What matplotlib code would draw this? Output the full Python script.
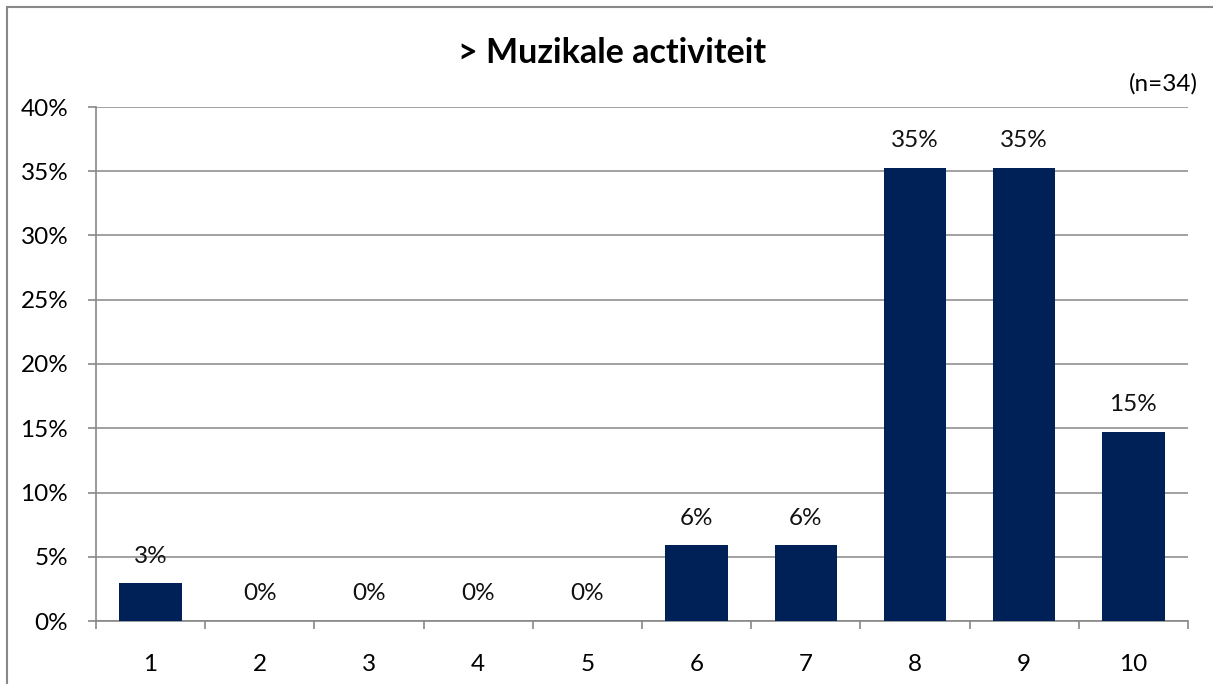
import numpy as np
import matplotlib.pyplot as plt
from matplotlib.patches import Rectangle

categories = ["1", "2", "3", "4", "5", "6", "7", "8", "9", "10"]
percentages = [2.94, 0, 0, 0, 0, 5.88, 5.88, 35.29, 35.29, 14.71]
bar_labels = ["3%", "0%", "0%", "0%", "0%", "6%", "6%", "35%", "35%", "15%"]
y_ticks = [0, 5, 10, 15, 20, 25, 30, 35, 40]

plt.rcParams['font.family'] = ['Lato', 'DejaVu Sans']

fig = plt.figure(figsize=(12.13, 6.84), dpi=100)
ax = fig.add_axes([96 / 1213, 1 - 621 / 684, (1188 - 96) / 1213, (621 - 107) / 684])

x = np.arange(len(categories))
ax.bar(x, percentages, width=0.57, color="#002157", zorder=3)

for xi, v, lab in zip(x, percentages, bar_labels):
    ax.annotate(lab, (xi, v), xytext=(0, 27), textcoords="offset pixels",
                ha="center", va="center", fontsize=17.5, color="#111111")

ax.set_xlim(-0.5, len(categories) - 0.5)
ax.set_ylim(0, 40)
ax.set_yticks(y_ticks)
ax.set_yticklabels([f"{t}%" for t in y_ticks], fontsize=17.5)
ax.set_xticks(x)
ax.set_xticklabels(categories, fontsize=17.5)
ax.set_xticks(np.arange(-0.5, len(categories)), minor=True)

ax.tick_params(axis="x", which="major", length=0, pad=24)
ax.tick_params(axis="x", which="minor", length=6, color="#888888", width=1.2)
ax.tick_params(axis="y", length=6, color="#888888", width=1.2, pad=14)

ax.grid(axis="y", color="#888888", linewidth=1.1, zorder=0)
for side in ["top", "right"]:
    ax.spines[side].set_visible(False)
for side in ["left", "bottom"]:
    ax.spines[side].set_color("#888888")
    ax.spines[side].set_linewidth(1.2)

fig.text(612 / 1213, 1 - 53 / 684, "> Muzikale activiteit", ha="center", va="center",
         fontsize=24.5, fontweight="bold")
fig.text(1198 / 1213, 1 - 84 / 684, "(n=34)", ha="right", va="center", fontsize=17.5)

fig.patches.append(Rectangle((7 / 1213, -0.01), 1.02, 1 - 7 / 684 + 0.01,
                             transform=fig.transFigure, fill=False,
                             edgecolor="#888888", linewidth=1.5))

fig.savefig("out.png", dpi=100)
